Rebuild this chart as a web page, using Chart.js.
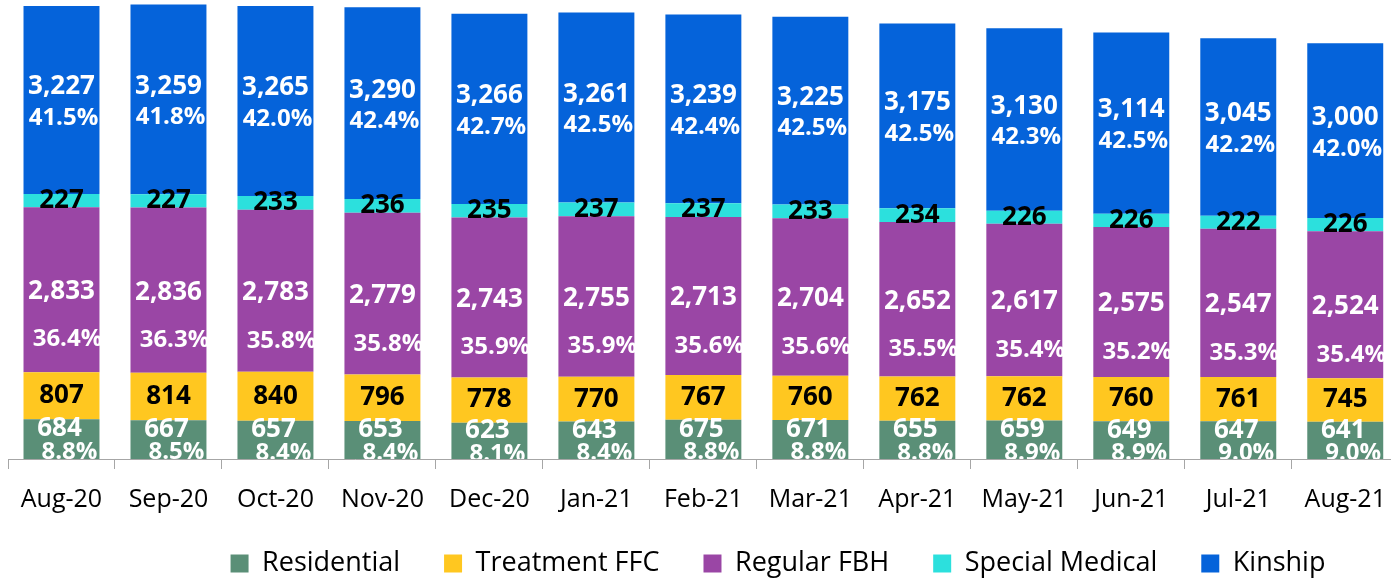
<!DOCTYPE html>
<html>
<head>
<meta charset="utf-8">
<script src="https://cdn.jsdelivr.net/npm/chart.js@4"></script>
<style>
  body { margin: 0; background: #fff; }
  #wrap { width: 1391px; height: 578px; overflow: hidden; }
</style>
</head>
<body>
<div id="wrap"><canvas id="myChart" width="1402" height="578"></canvas></div>
<script>
const meses = ["Aug-20", "Sep-20", "Oct-20", "Nov-20", "Dec-20", "Jan-21", "Feb-21", "Mar-21", "Apr-21", "May-21", "Jun-21", "Jul-21", "Aug-21"];

const residential = [684, 667, 657, 653, 623, 643, 675, 671, 655, 659, 649, 647, 641];
const residentialPct = [8.8, 8.5, 8.4, 8.4, 8.1, 8.4, 8.8, 8.8, 8.8, 8.9, 8.9, 9.0, 9.0];
const treatmentFFC = [807, 814, 840, 796, 778, 770, 767, 760, 762, 762, 760, 761, 745];
const regularFBH = [2833, 2836, 2783, 2779, 2743, 2755, 2713, 2704, 2652, 2617, 2575, 2547, 2524];
const regularPct = [36.4, 36.3, 35.8, 35.8, 35.9, 35.9, 35.6, 35.6, 35.5, 35.4, 35.2, 35.3, 35.4];
const specialMedical = [227, 227, 233, 236, 235, 237, 237, 233, 234, 226, 226, 222, 226];
const kinship = [3227, 3259, 3265, 3290, 3266, 3261, 3239, 3225, 3175, 3130, 3114, 3045, 3000];
const kinshipPct = [41.5, 41.8, 42.0, 42.4, 42.7, 42.5, 42.4, 42.5, 42.5, 42.3, 42.5, 42.2, 42.0];

const fuente = "'Open Sans', 'DejaVu Sans', sans-serif";

// como se dibuja cada etiqueta dentro de su segmento
const estilosEtiqueta = [
    { color: "#fff", pct: residentialPct, dyValor: -10, dyPct: 13, dxValor: -2, dxPct: 8 },
    { color: "#000", pct: null, dyValor: 0 },
    { color: "#fff", pct: regularPct, dyValor: 2, dyPct: 50, dxValor: 0, dxPct: 6 },
    { color: "#000", pct: null, dyValor: 0 },
    { color: "#fff", pct: kinshipPct, dyValor: -13, dyPct: 18, dxValor: 0, dxPct: 2 },
];

const etiquetasPlugin = {
    id: "etiquetas",
    afterDatasetsDraw(chart) {
        const ctx = chart.ctx;
        const area = chart.chartArea;
        ctx.save();
        ctx.beginPath();
        ctx.rect(area.left, area.top, area.right - area.left, area.bottom - area.top);
        ctx.clip();
        ctx.textAlign = "center";
        ctx.textBaseline = "middle";
        chart.data.datasets.forEach((ds, i) => {
            const est = estilosEtiqueta[i];
            chart.getDatasetMeta(i).data.forEach((bar, j) => {
                const cy = (bar.y + bar.base) / 2;
                ctx.fillStyle = est.color;
                ctx.font = `bold 26px ${fuente}`;
                ctx.fillText(ds.data[j].toLocaleString("en-US"), bar.x + (est.dxValor || 0), cy + est.dyValor);
                if (est.pct) {
                    ctx.font = `bold 24px ${fuente}`;
                    ctx.fillText(est.pct[j].toFixed(1) + "%", bar.x + est.dxPct, cy + est.dyPct);
                }
            });
        });
        ctx.restore();
    },
};

// mueve la leyenda como en la figura original
const moverLeyenda = {
    id: "moverLeyenda",
    afterLayout(chart) {
        chart.legend.left += 74;
        chart.legend.right += 74;
        chart.legend.top -= 13;
    },
};

const myChart = new Chart("myChart", {
    type: "bar",
    data: {
        labels: meses,
        datasets: [
            { label: "Residential", data: residential, backgroundColor: "#5a8f77" },
            { label: "Treatment FFC", data: treatmentFFC, backgroundColor: "#ffc720" },
            { label: "Regular FBH", data: regularFBH, backgroundColor: "#9a46a5" },
            { label: "Special Medical", data: specialMedical, backgroundColor: "#2ce0dd" },
            { label: "Kinship", data: kinship, backgroundColor: "#0563da" },
        ],
    },
    options: {
        responsive: false,
        animation: false,
        devicePixelRatio: 1,
        barPercentage: 0.71,
        categoryPercentage: 1,
        layout: { padding: { left: 8, right: 2, top: 0, bottom: 0 } },
        scales: {
            x: {
                stacked: true,
                offset: true,
                grid: { drawOnChartArea: false, drawTicks: true, tickLength: 10, color: "#a6a6a6", offset: true },
                border: { display: true, color: "#a6a6a6", width: 1 },
                ticks: { color: "#000", padding: 16, font: { family: fuente, size: 25 } },
                afterFit: (s) => { s.height = 60; },
            },
            y: {
                stacked: true,
                display: false,
                min: 0,
                max: 7880,
            },
        },
        plugins: {
            legend: {
                position: "bottom",
                maxHeight: 59,
                labels: {
                    boxWidth: 18,
                    boxHeight: 18,
                    padding: 44,
                    color: "#000",
                    font: { family: fuente, size: 27 },
                },
            },
            tooltip: { enabled: false },
        },
    },
    plugins: [etiquetasPlugin, moverLeyenda],
});
</script>
</body>
</html>
